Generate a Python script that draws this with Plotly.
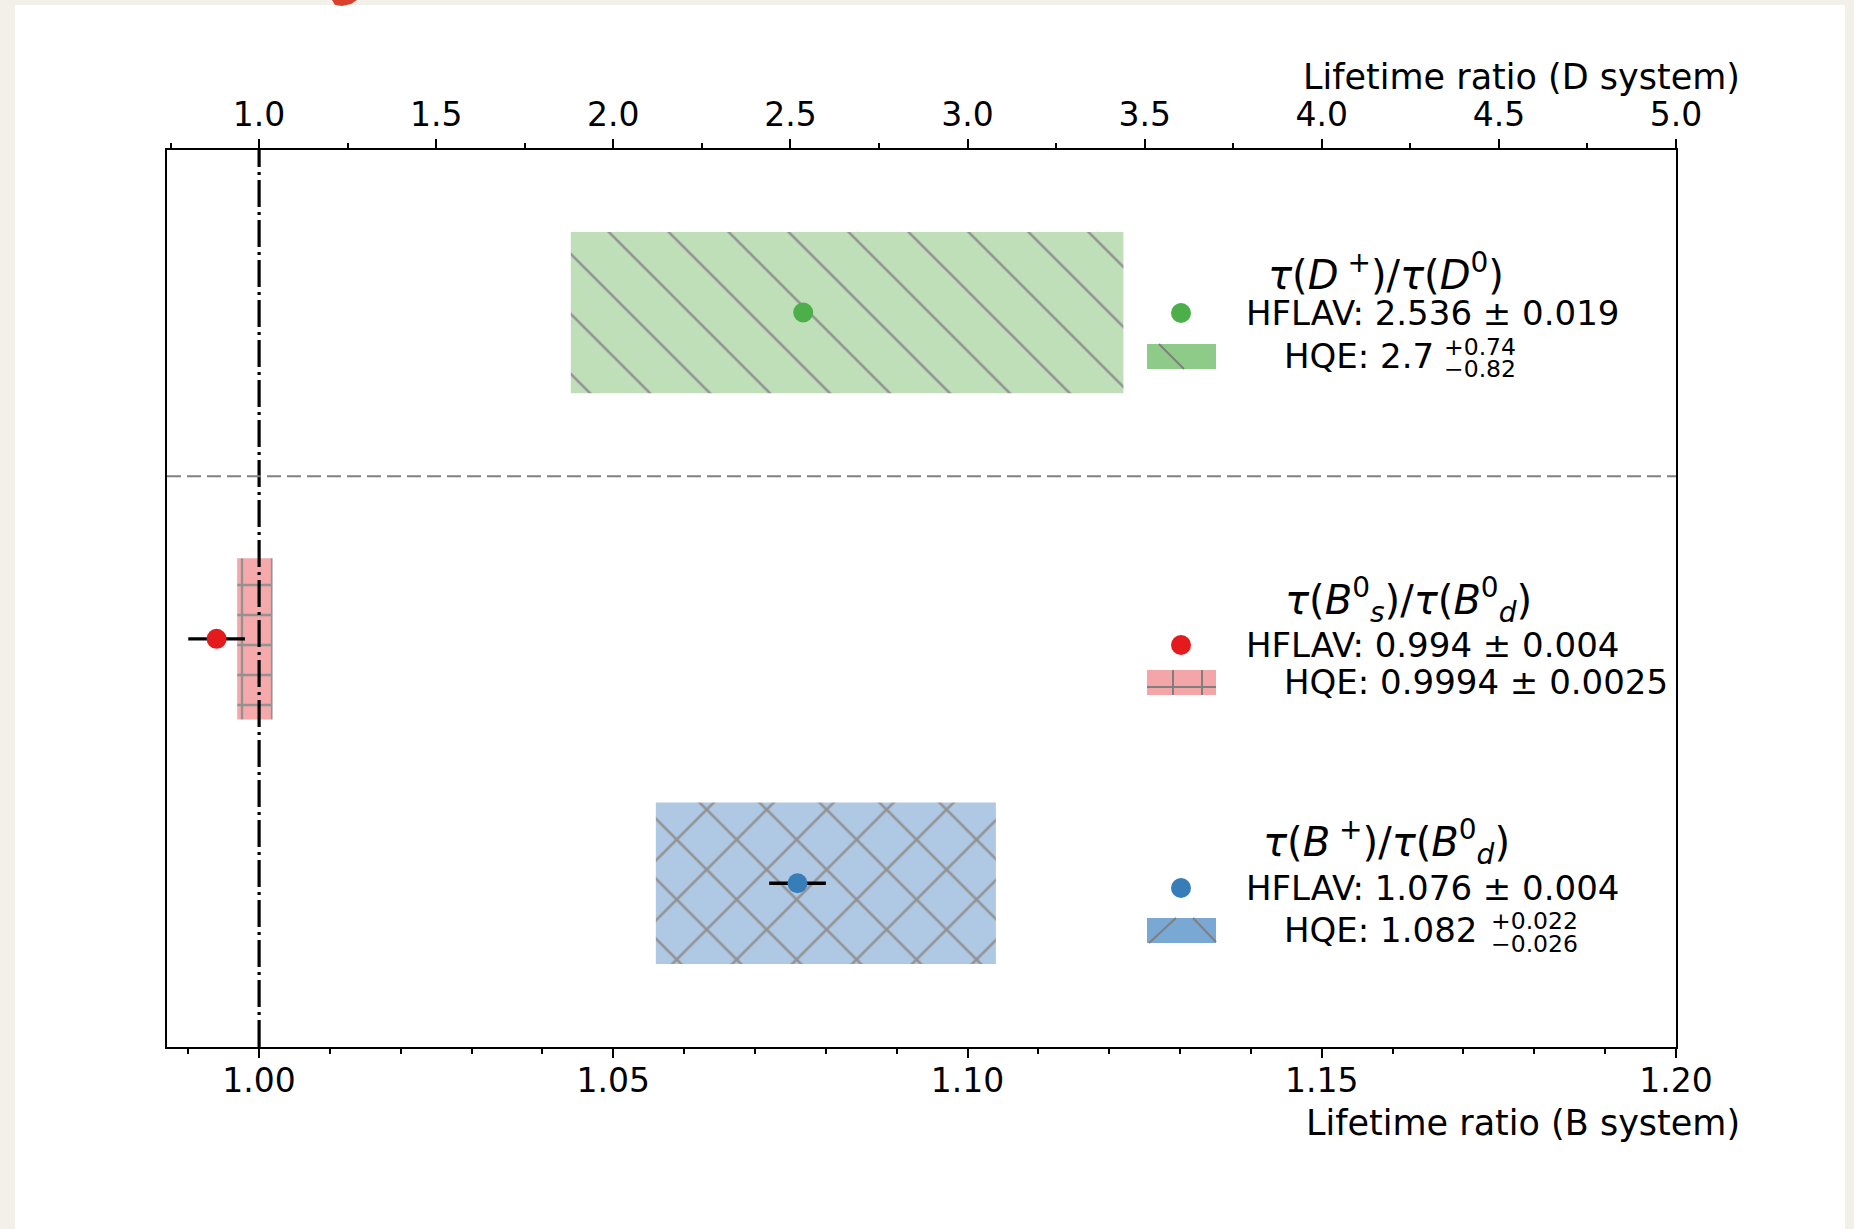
import plotly.graph_objects as go

# ---------------- data ----------------
categories = ["D+/D0", "Bs/Bd", "B+/Bd"]
hflav_val = [2.536, 0.994, 1.076]
hflav_err = [0.019, 0.004, 0.004]
hqe_val = [2.7, 0.9994, 1.082]
hqe_err_plus = [0.74, 0.0025, 0.022]
hqe_err_minus = [0.82, 0.0025, 0.026]
on_top_axis = [True, False, False]   # D system uses the top axis

titles = [
    "<i>τ</i>(<i>D</i><sup> +</sup>)/<i>τ</i>(<i>D</i><sup>0</sup>)",
    "<i>τ</i>(<i>B</i><sup>0</sup><sub><i>s</i></sub>)/<i>τ</i>(<i>B</i><sup>0</sup><sub><i>d</i></sub>)",
    "<i>τ</i>(<i>B</i><sup> +</sup>)/<i>τ</i>(<i>B</i><sup>0</sup><sub><i>d</i></sub>)",
]

# ---------------- style ----------------
ypos = [3.335, 2.0, 1.0]
box_h = 0.66
marker_col = ["#4daf4a", "#e41a1c", "#377eb8"]
box_col = ["#bfdfb9", "#f5a9ab", "#afc8e4"]
swatch_col = ["#8fcb88", "#f3a5a8", "#7aa8d5"]
hatch_col = "#929292"
patterns = [
    dict(shape="\\", size=42.4, solidity=0.06),
    dict(shape="+", size=30, solidity=0.15),
    dict(shape="x", size=42.4, solidity=0.12),
]
FONT = "DejaVu Sans"

W, H = 1854, 1229
PL, PT, PW, PH = 167, 150, 1509, 897


def px(x):
    return (x - PL) / PW


def py(y):
    return (PT + PH - y) / PH


fig = go.Figure()

for i in range(len(categories)):
    xa = "x2" if on_top_axis[i] else "x"
    lo = hqe_val[i] - hqe_err_minus[i]
    hi = hqe_val[i] + hqe_err_plus[i]
    fig.add_trace(go.Bar(
        y=[ypos[i]], x=[hi - lo], base=[lo], orientation="h", width=box_h,
        xaxis=xa, yaxis="y",
        marker=dict(color=box_col[i], line=dict(width=0),
                    pattern=dict(shape=patterns[i]["shape"], size=patterns[i]["size"],
                                 solidity=patterns[i]["solidity"], fgcolor=hatch_col,
                                 bgcolor=box_col[i], fillmode="replace")),
        hoverinfo="skip", showlegend=False,
    ))
for i in range(len(categories)):
    xa = "x2" if on_top_axis[i] else "x"
    fig.add_trace(go.Scatter(
        x=[hflav_val[i]], y=[ypos[i]], mode="markers", xaxis=xa, yaxis="y",
        marker=dict(color=marker_col[i], size=20, line=dict(width=0)),
        error_x=dict(type="data", array=[hflav_err[i]], thickness=3.3, width=0, color="black"),
        hoverinfo="skip", showlegend=False,
    ))

shapes = []
# white page region over beige background
shapes.append(dict(type="rect", xref="paper", yref="paper", layer="below",
                   x0=px(15), x1=px(1845), y0=py(1229), y1=py(5),
                   fillcolor="white", line=dict(width=0)))
# red blob at the top edge
pts = [(332, 0), (357, 0), (351, 4), (342, 6), (335, 5)]
path = "M " + " L ".join(f"{px(a)},{py(b)}" for a, b in pts) + " Z"
shapes.append(dict(type="path", xref="paper", yref="paper", path=path,
                   fillcolor="#d9412c", line=dict(width=0)))
# vertical dash-dot reference at 1
shapes.append(dict(type="line", xref="x", yref="paper", x0=1.0, x1=1.0, y0=0, y1=1,
                   layer="above", line=dict(color="black", width=3.2, dash="27px,5px,3px,5px")))
# separator between D and B systems
shapes.append(dict(type="line", xref="paper", yref="y", x0=0, x1=1, y0=2.665, y1=2.665,
                   layer="above", line=dict(color="#808080", width=2, dash="14px,6px")))

annotations = []


def txt(text, x, y, size, anchor="left"):
    annotations.append(dict(xref="paper", yref="paper", x=px(x), y=py(y), text=text,
                            showarrow=False, xanchor=anchor, yanchor="middle",
                            font=dict(family=FONT, size=size, color="black")))


# legend-like block
hflav_y = [313, 645, 888]
hqe_y = [356, 682, 930]
title_xy = [(1386, 272), (1408, 600), (1386, 842)]
patch_y = [(344, 369), (670, 695), (918, 943)]

for i in range(3):
    txt(titles[i], title_xy[i][0], title_xy[i][1], 40, "center")
    # dot
    shapes.append(dict(type="circle", xref="paper", yref="paper",
                       x0=px(1171), x1=px(1191), y0=py(hflav_y[i] + 10), y1=py(hflav_y[i] - 10),
                       fillcolor=marker_col[i], line=dict(width=0)))
    # patch
    y0p, y1p = patch_y[i]
    shapes.append(dict(type="rect", xref="paper", yref="paper",
                       x0=px(1147), x1=px(1216), y0=py(y1p), y1=py(y0p),
                       fillcolor=swatch_col[i], line=dict(width=0)))
    txt(f"HFLAV: {hflav_val[i]} ± {hflav_err[i]}", 1244, hflav_y[i], 34)
    if hqe_err_plus[i] == hqe_err_minus[i]:
        txt(f"HQE: {hqe_val[i]} ± {hqe_err_plus[i]}", 1282, hqe_y[i], 34)
    else:
        txt(f"HQE: {hqe_val[i]}", 1282, hqe_y[i], 34)

# hatch marks inside legend patches
hl = dict(color="#7f7f7f", width=2)
shapes.append(dict(type="line", xref="paper", yref="paper", x0=px(1159), y0=py(344), x1=px(1184), y1=py(369), line=hl))
for xv in (1173, 1202):
    shapes.append(dict(type="line", xref="paper", yref="paper", x0=px(xv), y0=py(670), x1=px(xv), y1=py(695), line=hl))
shapes.append(dict(type="line", xref="paper", yref="paper", x0=px(1147), y0=py(687), x1=px(1216), y1=py(687), line=hl))
shapes.append(dict(type="line", xref="paper", yref="paper", x0=px(1149), y0=py(943), x1=px(1176), y1=py(918), line=hl))
shapes.append(dict(type="line", xref="paper", yref="paper", x0=px(1193), y0=py(918), x1=px(1216), y1=py(942), line=hl))

# stacked super/subscripts for asymmetric HQE errors
sup_x = [1442, None, 1489]
sup_y = [(347, 369), None, (921, 944)]
for i in range(3):
    if sup_x[i] is None:
        continue
    txt(f"+{hqe_err_plus[i]}", sup_x[i], sup_y[i][0], 23.5)
    txt(f"−{hqe_err_minus[i]}", sup_x[i], sup_y[i][1], 23.5)

# axis labels
txt("Lifetime ratio (D system)", 1742, 77, 35, "right")
txt("Lifetime ratio (B system)", 1742, 1123, 35, "right")

axis_common = dict(showgrid=False, zeroline=False, showline=True, linecolor="black", linewidth=2,
                   ticks="outside", ticklen=9, tickwidth=2, tickcolor="black",
                   tickfont=dict(family=FONT, size=33, color="black"))

fig.update_layout(
    width=W, height=H,
    margin=dict(l=PL, r=W - PL - PW, t=PT, b=H - PT - PH, pad=0),
    paper_bgcolor="#f3f0e9", plot_bgcolor="white",
    barmode="overlay", showlegend=False, hovermode=False,
    xaxis=dict(range=[0.987, 1.2], tick0=1.0, dtick=0.05, tickformat=".2f", side="bottom",
               ticklabelstandoff=-6,
               minor=dict(dtick=0.01, tick0=1.0, ticks="outside", ticklen=5, tickwidth=1.5, tickcolor="black"),
               **axis_common),
    xaxis2=dict(range=[0.74, 5.0], tick0=1.0, dtick=0.5, tickformat=".1f", side="top",
                overlaying="x", anchor="y",
                minor=dict(dtick=0.25, tick0=1.0, ticks="outside", ticklen=5, tickwidth=1.5, tickcolor="black"),
                **axis_common),
    yaxis=dict(range=[0.33, 4.0], showticklabels=False, ticks="", showgrid=False, zeroline=False,
               showline=True, mirror=True, linecolor="black", linewidth=2),
    shapes=shapes, annotations=annotations,
)

fig.write_html("out.html", config={"displayModeBar": False},
               post_script="document.body.style.margin='0';document.body.style.overflow='hidden';")
